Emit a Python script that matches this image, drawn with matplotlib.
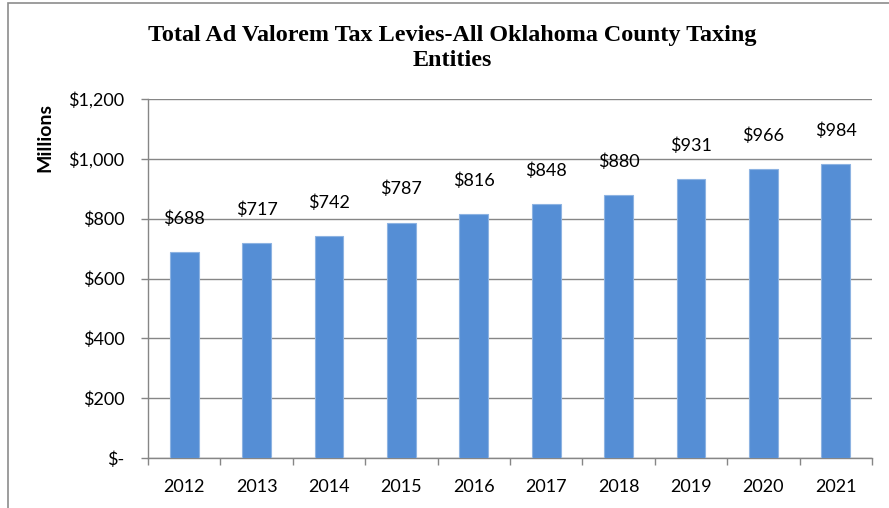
import matplotlib.pyplot as plt
from matplotlib.patches import Rectangle

# data (millions of dollars)
years = ["2012", "2013", "2014", "2015", "2016", "2017", "2018", "2019", "2020", "2021"]
levies = [688, 717, 742, 787, 816, 848, 880, 931, 966, 984]
yticks = [0, 200, 400, 600, 800, 1000, 1200]
ytick_labels = ["$-", "$200", "$400", "$600", "$800", "$1,000", "$1,200"]

plt.rcParams['font.family'] = ['Lato', 'DejaVu Sans']

fig = plt.figure(figsize=(8.89, 5.08), dpi=100)
ax = fig.add_axes([148 / 889, 1 - 458 / 508, (872 - 148) / 889, (458 - 99) / 508])

# outer chart border (only left/top visible, rest cut off)
fig.patches.append(Rectangle((8 / 889, -0.1), 1.2, (508 - 3) / 508 + 0.1,
                             transform=fig.transFigure, fill=False,
                             edgecolor="#8c8c8c", linewidth=1.2))

x = range(len(years))
ax.bar(x, levies, width=0.4, color="#558ED5", edgecolor="#8DB3E2", linewidth=0.8, zorder=3)

for i, v in enumerate(levies):
    ax.annotate(f"${v}", (i, v), xytext=(0, 24), textcoords="offset points",
                ha="center", va="center", fontsize=13)

ax.set_xlim(-0.5, len(years) - 0.5)
ax.set_ylim(0, 1200)
ax.set_yticks(yticks)
ax.set_yticklabels(ytick_labels, fontsize=13)
ax.set_xticks(list(x))
ax.set_xticklabels(years, fontsize=13)
ax.set_xticks([i - 0.5 for i in range(len(years) + 1)], minor=True)
ax.tick_params(axis="x", which="major", length=0, pad=15)
ax.tick_params(axis="x", which="minor", length=5, color="#868686", width=1)
ax.tick_params(axis="y", length=5, color="#868686", width=1, pad=12)

ax.grid(axis="y", color="#868686", linewidth=1, zorder=0)
for s in ["top", "right"]:
    ax.spines[s].set_visible(False)
for s in ["left", "bottom"]:
    ax.spines[s].set_color("#868686")
    ax.spines[s].set_linewidth(1)

fig.text(45 / 889, 1 - 137 / 508, "Millions", rotation=90, ha="center", va="center",
         fontsize=14, fontweight="bold")

fig.text(452 / 889, 1 - 48 / 508,
         "Total Ad Valorem Tax Levies-All Oklahoma County Taxing\nEntities",
         ha="center", va="center", fontsize=17.4, fontweight="bold",
         family=["Liberation Serif"], linespacing=1.25)

fig.savefig("out.png", dpi=100)
